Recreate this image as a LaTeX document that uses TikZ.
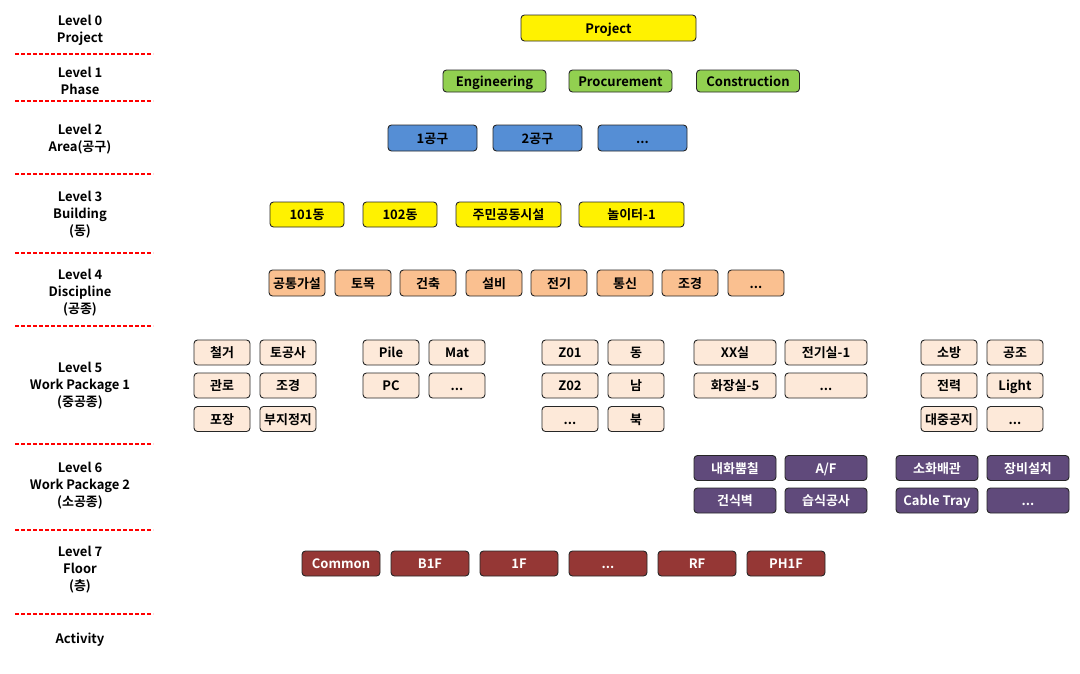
\documentclass[tikz,border=0pt]{standalone}
\usepackage{fontspec}
\setmainfont{Noto Sans CJK KR}[BoldFont={Noto Sans CJK KR Bold}]
\begin{document}
\begin{tikzpicture}[x=1pt,y=-1pt,
  box/.style={draw=black!85, rounded corners=3.5, line width=0.9, inner sep=0pt,
    text height=11pt, text depth=1pt,
    font=\bfseries\fontsize{13}{15}\selectfont, text=black},
  yel/.style={box, fill=yellow},
  grn/.style={box, fill={rgb,255:red,146;green,208;blue,80}, minimum width=103, minimum height=22},
  blu/.style={box, fill={rgb,255:red,85;green,142;blue,213}, minimum width=89, minimum height=26},
  org/.style={box, fill={rgb,255:red,250;green,192;blue,144}, minimum width=56, minimum height=26},
  pch/.style={box, fill={rgb,255:red,253;green,233;blue,217}, minimum width=56, minimum height=25},
  pchw/.style={pch, minimum width=82},
  pur/.style={box, fill={rgb,255:red,96;green,74;blue,123}, text=white, minimum width=82, minimum height=25},
  red/.style={box, fill={rgb,255:red,149;green,55;blue,53}, text=white, minimum width=78, minimum height=25},
  lvl/.style={align=center, font=\bfseries\fontsize{13}{17}\selectfont, inner sep=0pt},
  sep/.style={draw=red, line width=1.3, dash pattern=on 4pt off 2pt}
]
\useasboundingbox (0,0) rectangle (1080,673);

% level labels
\node[lvl] (l0) at (80,30) {Level 0\\Project};
\node[lvl] (l1) at (80,80.5) {Level 1\\Phase};
\node[lvl] (l2) at (80,139) {Level 2\\Area(공구)};
\node[lvl] (l3) at (80,214.5) {Level 3\\Building\\(동)};
\node[lvl] (l4) at (80,292.5) {Level 4\\Discipline\\(공종)};
\node[lvl] (l5) at (80,385.5) {Level 5\\Work Package 1\\(중공종)};
\node[lvl] (l6) at (80,486) {Level 6\\Work Package 2\\(소공종)};
\node[lvl] (l7) at (80,570) {Level 7\\Floor\\(층)};
\node[lvl] (la) at (80,639.5) {Activity};

% separators
\foreach \yy in {54,101,174,253,326,444,530,614}
  \draw[sep] (15,\yy) -- (153,\yy);

% level 0
\node[yel, minimum width=175, minimum height=26] (p) at (608.5,28) {Project};
% level 1
\node[grn] (eng) at (494.5,81) {Engineering};
\node[grn] (pro) at (620.5,81) {Procurement};
\node[grn] (con) at (748,81) {Construction};
% level 2
\node[blu] (a1) at (432.5,138) {1공구};
\node[blu] (a2) at (537.5,138) {2공구};
\node[blu] (a3) at (642.5,138) {...};
% level 3
\node[yel, minimum width=74, minimum height=25] (b1) at (307,214.5) {101동};
\node[yel, minimum width=74, minimum height=25] (b2) at (400,214.5) {102동};
\node[yel, minimum width=105, minimum height=25] (b3) at (508.5,214.5) {주민공동시설};
\node[yel, minimum width=105, minimum height=25] (b4) at (631.5,214.5) {놀이터-1};
% level 4
\node[org] (d1) at (297,283) {공통가설};
\node[org] (d2) at (363,283) {토목};
\node[org] (d3) at (428,283) {건축};
\node[org] (d4) at (494,283) {설비};
\node[org] (d5) at (559,283) {전기};
\node[org] (d6) at (625,283) {통신};
\node[org] (d7) at (690,283) {조경};
\node[org] (d8) at (756,283) {...};
% level 5
\node[pch] (w11) at (222,352.5) {철거};
\node[pch] (w12) at (288,352.5) {토공사};
\node[pch] (w13) at (222,385.5) {관로};
\node[pch] (w14) at (288,385.5) {조경};
\node[pch] (w15) at (222,419) {포장};
\node[pch] (w16) at (288,419) {부지정지};

\node[pch] (w21) at (391,352.5) {Pile};
\node[pch] (w22) at (457,352.5) {Mat};
\node[pch] (w23) at (391,385.5) {PC};
\node[pch] (w24) at (457,385.5) {...};

\node[pch] (w31) at (570,352.5) {Z01};
\node[pch] (w32) at (636,352.5) {동};
\node[pch] (w33) at (570,385.5) {Z02};
\node[pch] (w34) at (636,385.5) {남};
\node[pch] (w35) at (570,419) {...};
\node[pch] (w36) at (636,419) {북};

\node[pchw] (w41) at (735,352.5) {XX실};
\node[pchw] (w42) at (826,352.5) {전기실-1};
\node[pchw] (w43) at (735,385.5) {화장실-5};
\node[pchw] (w44) at (826,385.5) {...};

\node[pch] (w51) at (949,352.5) {소방};
\node[pch] (w52) at (1015,352.5) {공조};
\node[pch] (w53) at (949,385.5) {전력};
\node[pch] (w54) at (1015,385.5) {Light};
\node[pch] (w55) at (949,419) {대중공지};
\node[pch] (w56) at (1015,419) {...};
% level 6
\node[pur] (s1) at (735,468) {내화뿜칠};
\node[pur] (s2) at (826,468) {A/F};
\node[pur] (s3) at (735,500.5) {건식벽};
\node[pur] (s4) at (826,500.5) {습식공사};
\node[pur] (s5) at (937,468) {소화배관};
\node[pur] (s6) at (1028,468) {장비설치};
\node[pur] (s7) at (937,500.5) {Cable Tray};
\node[pur] (s8) at (1028,500.5) {...};
% level 7
\node[red] (f1) at (341,563.5) {Common};
\node[red] (f2) at (430,563.5) {B1F};
\node[red] (f3) at (519,563.5) {1F};
\node[red] (f4) at (608,563.5) {...};
\node[red] (f5) at (697,563.5) {RF};
\node[red] (f6) at (786,563.5) {PH1F};
\end{tikzpicture}
\end{document}
